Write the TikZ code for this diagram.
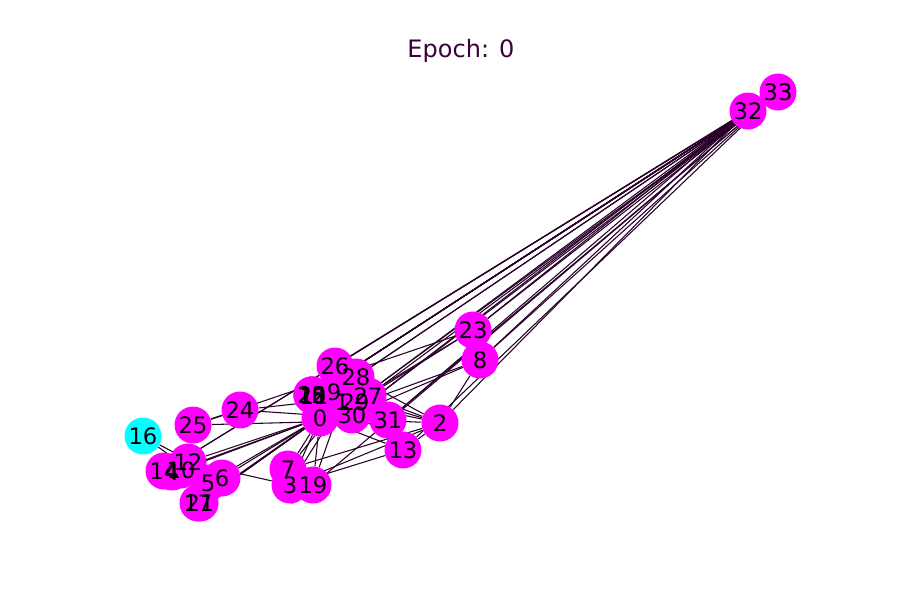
\documentclass[tikz,border=0pt]{standalone}
\usepackage{fontspec}
\setmainfont{DejaVu Sans}
\definecolor{nodemag}{RGB}{255,0,255}
\definecolor{nodecyan}{RGB}{0,255,255}
\definecolor{edgeink}{RGB}{40,0,40}
\definecolor{titleink}{RGB}{60,0,60}
\pgfdeclarelayer{background}
\pgfsetlayers{background,main}
\tikzset{
  member/.style={circle,fill=nodemag,minimum size=27.75pt,inner sep=0pt},
  seed/.style={member,fill=nodecyan},
  tag/.style={inner sep=0pt,text=black,font=\fontsize{17}{18}\selectfont},
  link/.style={edgeink,line width=0.8pt}
}
\begin{document}
\begin{tikzpicture}[x=0.75pt,y=-0.75pt]
      \useasboundingbox (0,0) rectangle (900,600);
      \node[inner sep=0pt,text=titleink,font=\fontsize{18}{19}\selectfont] (title) at (461,51) {Epoch: 0};
      \draw
        (320,418) node[member] (0){}
        (342,402) node[member] (1){}
        (440,423) node[member] (2){}
        (290,485) node[member] (3){}
        (172,472) node[member] (4){}
        (208,483) node[member] (5){}
        (222,478) node[member] (6){}
        (288,469) node[member] (7){}
        (480,360) node[member] (8){}
        (334,392) node[member] (9){}
        (181,470) node[member] (10){}
        (314,396) node[member] (11){}
        (188,462) node[member] (12){}
        (403,450) node[member] (13){}
        (164,471) node[member] (14){}
        (312,395) node[member] (15){}
        (143,436) node[seed] (16){}
        (198,503) node[member] (17){}
        (312,395) node[member] (18){}
        (313,485) node[member] (19){}
        (312,395) node[member] (20){}
        (200,503) node[member] (21){}
        (312,395) node[member] (22){}
        (473,330) node[member] (23){}
        (240,410) node[member] (24){}
        (193,425) node[member] (25){}
        (335,366) node[member] (26){}
        (368,396) node[member] (27){}
        (356,377) node[member] (28){}
        (355,402) node[member] (29){}
        (352,415) node[member] (30){}
        (388,420) node[member] (31){}
        (748,111) node[member] (32){}
        (778,92) node[member] (33){};
      \begin{pgfonlayer}{background}
      \begin{scope}[link]
        \draw (0) to (1);
        \draw (0) to (2);
        \draw (0) to (3);
        \draw (0) to (4);
        \draw (0) to (5);
        \draw (0) to (6);
        \draw (0) to (7);
        \draw (0) to (8);
        \draw (0) to (10);
        \draw (0) to (11);
        \draw (0) to (12);
        \draw (0) to (13);
        \draw (0) to (17);
        \draw (0) to (19);
        \draw (0) to (21);
        \draw (0) to (31);
        \draw (1) to (2);
        \draw (1) to (3);
        \draw (1) to (7);
        \draw (1) to (13);
        \draw (1) to (17);
        \draw (1) to (19);
        \draw (1) to (21);
        \draw (1) to (30);
        \draw (2) to (3);
        \draw (2) to (7);
        \draw (2) to (8);
        \draw (2) to (9);
        \draw (2) to (13);
        \draw (2) to (27);
        \draw (2) to (28);
        \draw (2) to (32);
        \draw (3) to (7);
        \draw (3) to (12);
        \draw (3) to (13);
        \draw (4) to (6);
        \draw (4) to (10);
        \draw (5) to (6);
        \draw (5) to (10);
        \draw (5) to (16);
        \draw (6) to (16);
        \draw (8) to (30);
        \draw (8) to (32);
        \draw (8) to (33);
        \draw (9) to (33);
        \draw (13) to (33);
        \draw (14) to (32);
        \draw (14) to (33);
        \draw (15) to (32);
        \draw (15) to (33);
        \draw (18) to (32);
        \draw (18) to (33);
        \draw (19) to (33);
        \draw (20) to (32);
        \draw (20) to (33);
        \draw (22) to (32);
        \draw (22) to (33);
        \draw (23) to (25);
        \draw (23) to (27);
        \draw (23) to (29);
        \draw (23) to (32);
        \draw (23) to (33);
        \draw (24) to (25);
        \draw (24) to (27);
        \draw (24) to (31);
        \draw (25) to (31);
        \draw (26) to (29);
        \draw (26) to (33);
        \draw (27) to (33);
        \draw (28) to (31);
        \draw (28) to (33);
        \draw (29) to (32);
        \draw (29) to (33);
        \draw (30) to (32);
        \draw (30) to (33);
        \draw (31) to (32);
        \draw (31) to (33);
        \draw (32) to (33);
      \end{scope}
      \end{pgfonlayer}
      % labels over all discs
      \foreach \v in {0,...,33}
        \node[tag] at (\v) {\v};
    \end{tikzpicture}
\end{document}
